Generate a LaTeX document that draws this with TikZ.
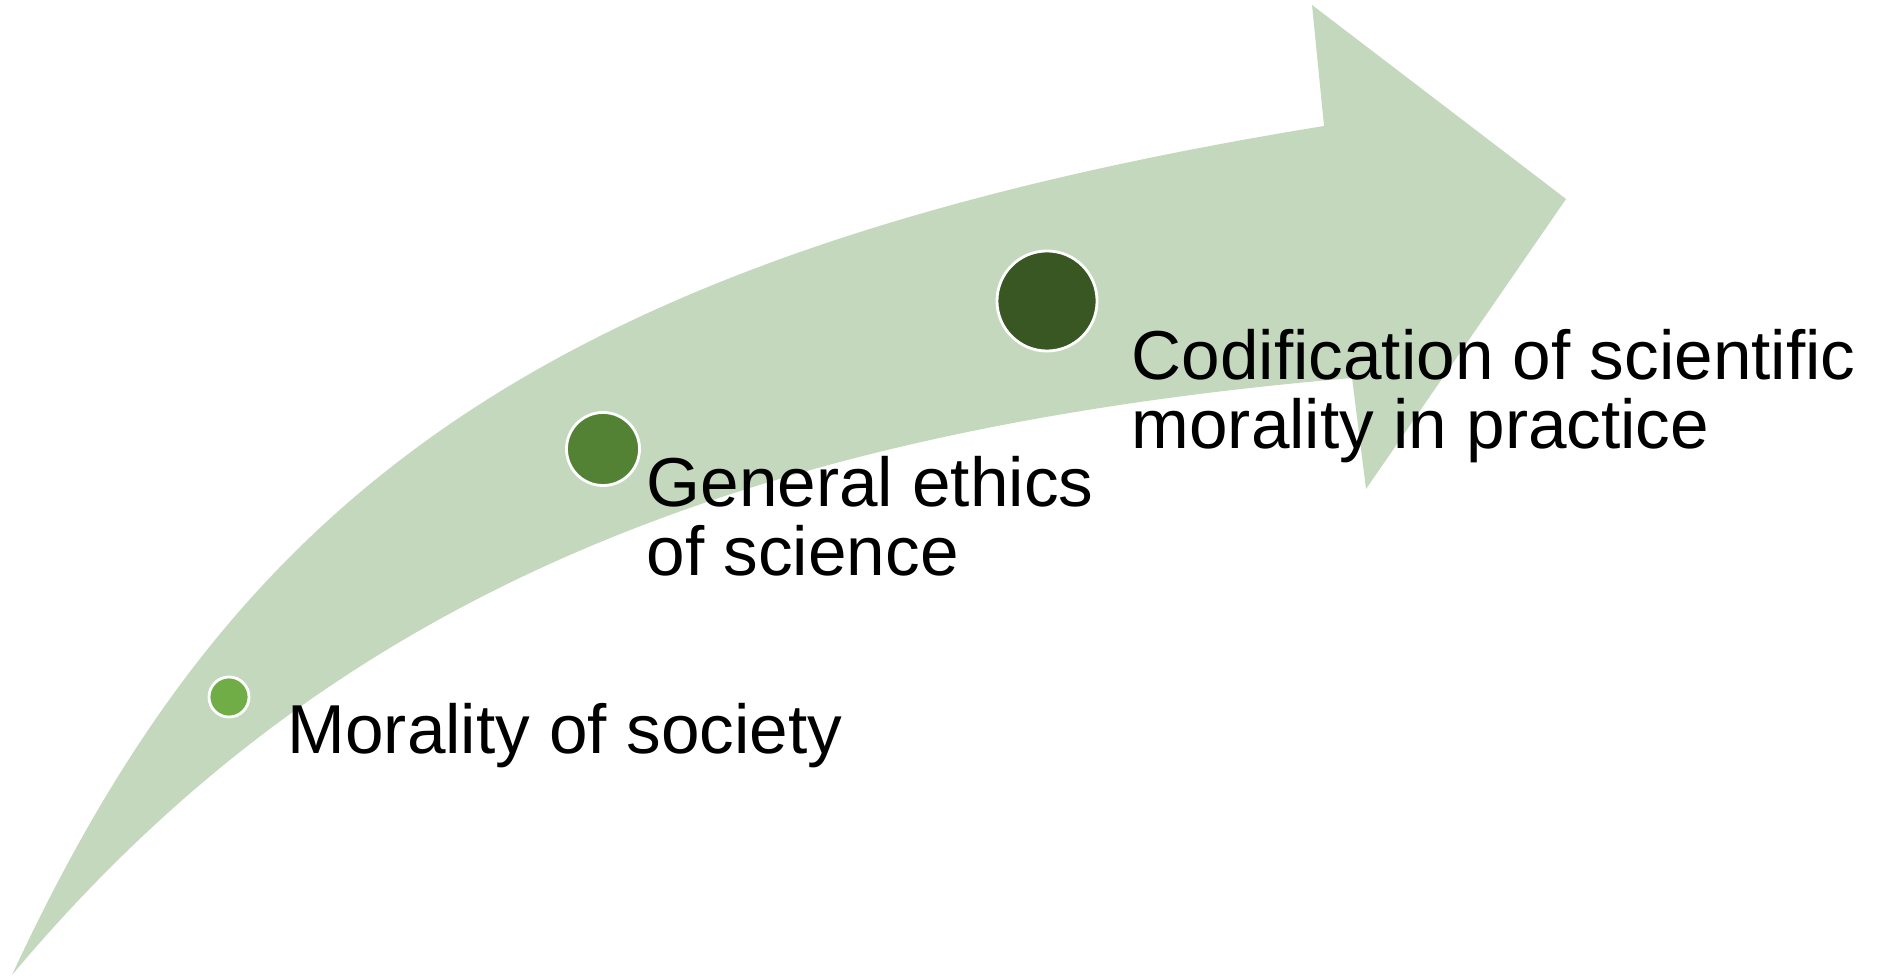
\documentclass[tikz,border=0pt]{standalone}
\usepackage{fontspec}
\setmainfont{Liberation Sans}
\usepackage{xcolor}
\usetikzlibrary{shapes,arrows,positioning,calc}

\definecolor{bandgreen}{RGB}{195,216,188}
\definecolor{dotlight}{RGB}{112,173,71}
\definecolor{dotmid}{RGB}{84,130,53}
\definecolor{dotdark}{RGB}{56,87,35}

\tikzset{
    milestone/.style={circle, draw=white, line width=0.8pt, inner sep=0pt},
    steplabel/.style={anchor=base west, align=left, inner sep=0pt,
        font=\fontsize{19.7}{19.9}\selectfont}
}

\begin{document}
\begin{tikzpicture}[x=0.01cm, y=-0.01cm]
    \useasboundingbox (0,0) rectangle (1877,977);

    % Curved arrow
    \fill[bandgreen] (12,975) .. controls (230,505) and (530,255) .. (1324,126)
        -- (1312,5) -- (1566,199) -- (1366,489) -- (1352,378)
        .. controls (720,432) and (320,608) .. (12,975) -- cycle;

    % Milestones
    \node[milestone, fill=dotlight, minimum size=0.4cm] (society) at (229,697) {};
    \node[milestone, fill=dotmid, minimum size=0.73cm] (ethics) at (603,449) {};
    \node[milestone, fill=dotdark, minimum size=1cm] (codification) at (1047,301) {};

    % Labels (base = last line)
    \node[steplabel] (societytext) at (287,754) {Morality of society};
    \node[steplabel] (ethicstext) at (646,576) {General ethics\\of science};
    \node[steplabel] (codificationtext) at (1131,449) {Codification of scientific\\morality in practice};
\end{tikzpicture}
\end{document}
